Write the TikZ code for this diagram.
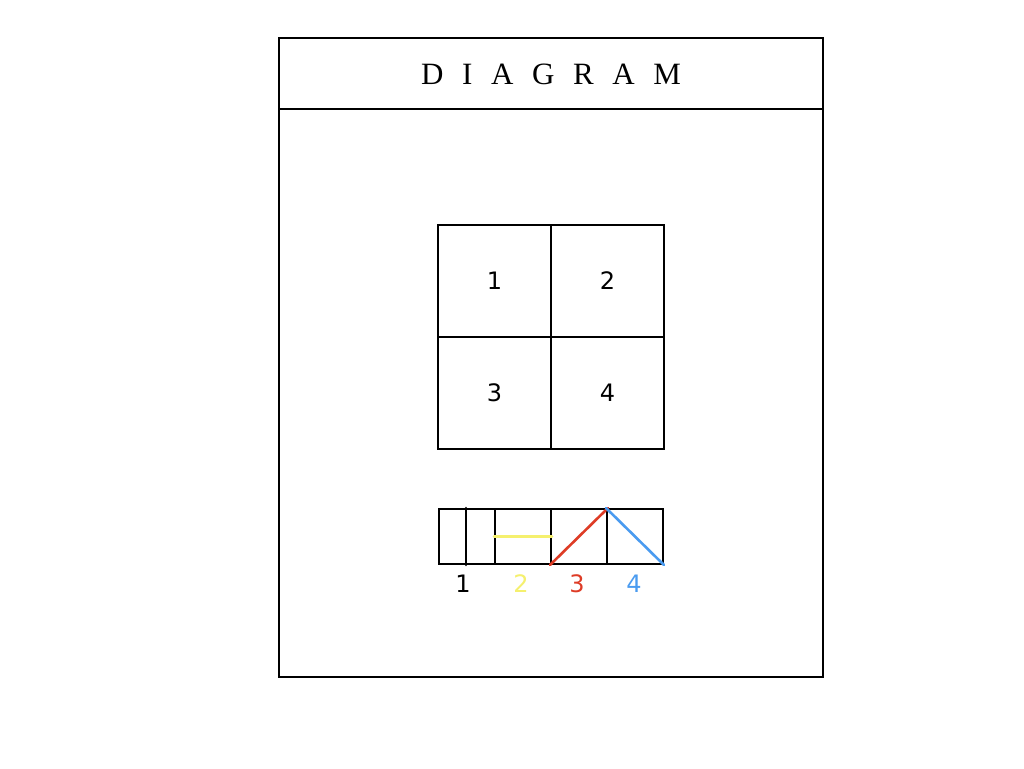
\documentclass[tikz,border=0pt]{standalone}
\usepackage{fontspec}
\setmainfont{Liberation Serif}
\newfontfamily\handfont{DejaVu Sans}
\begin{document}
\begin{tikzpicture}[x=1pt,y=-1pt,
  frame/.style={draw=black,line width=2pt},
  cell/.style={draw=black,line width=2pt,minimum width=113pt,minimum height=112pt,inner sep=0pt,anchor=north west,font=\handfont\fontsize{24}{24}\selectfont},
  legcell/.style={draw=black,line width=2pt,minimum width=56pt,minimum height=55pt,inner sep=0pt,anchor=north west},
  leglabel/.style={font=\handfont\fontsize{24}{24}\selectfont,inner sep=0pt},
  stroke/.style={line width=2.6pt,line cap=round}]
\useasboundingbox (0,0) rectangle (1024,768);
\fill[white] (0,0) rectangle (1024,768);
\begin{scope}[xshift=-1pt,yshift=1pt]
% outer frame and header
\node[frame,minimum width=544pt,minimum height=639pt,inner sep=0pt,anchor=north west] (outer) at (279,38) {};
\coordinate (hl) at (279,110);
\coordinate (hr) at (823,110);
\draw[frame] (hl) -- (hr);
\node[font=\fontsize{31}{31}\selectfont,inner sep=0pt] (title) at (552,75) {D\hspace{0.6em}I\hspace{0.6em}A\hspace{0.6em}G\hspace{0.6em}R\hspace{0.6em}A\hspace{0.6em}M};
% 2x2 grid
\node[cell] (c1) at (438,225) {1};
\node[cell] (c2) at (551,225) {2};
\node[cell] (c3) at (438,337) {3};
\node[cell] (c4) at (551,337) {4};
% legend strip
\node[legcell] (l1) at (439,509) {};
\node[legcell] (l2) at (495,509) {};
\node[legcell] (l3) at (551,509) {};
\node[legcell] (l4) at (607,509) {};
\draw[stroke,black] (l1.north) ++(-1,0) coordinate (a1) -- (l1.south -| a1);
\draw[stroke,color={rgb,255:red,245;green,240;blue,110}] (l2.west) -- (l2.east);
\draw[stroke,color={rgb,255:red,222;green,60;blue,38}] (l3.south west) -- (l3.north east);
\draw[stroke,color={rgb,255:red,74;green,155;blue,240}] (l4.north west) -- (l4.south east);
\node[leglabel,text=black] (t1) at (464,585) {1};
\node[leglabel,text={rgb,255:red,245;green,240;blue,110}] (t2) at (522,585) {2};
\node[leglabel,text={rgb,255:red,222;green,60;blue,38}] (t3) at (578,585) {3};
\node[leglabel,text={rgb,255:red,74;green,155;blue,240}] (t4) at (635,585) {4};
\end{scope}
\end{tikzpicture}
\end{document}
